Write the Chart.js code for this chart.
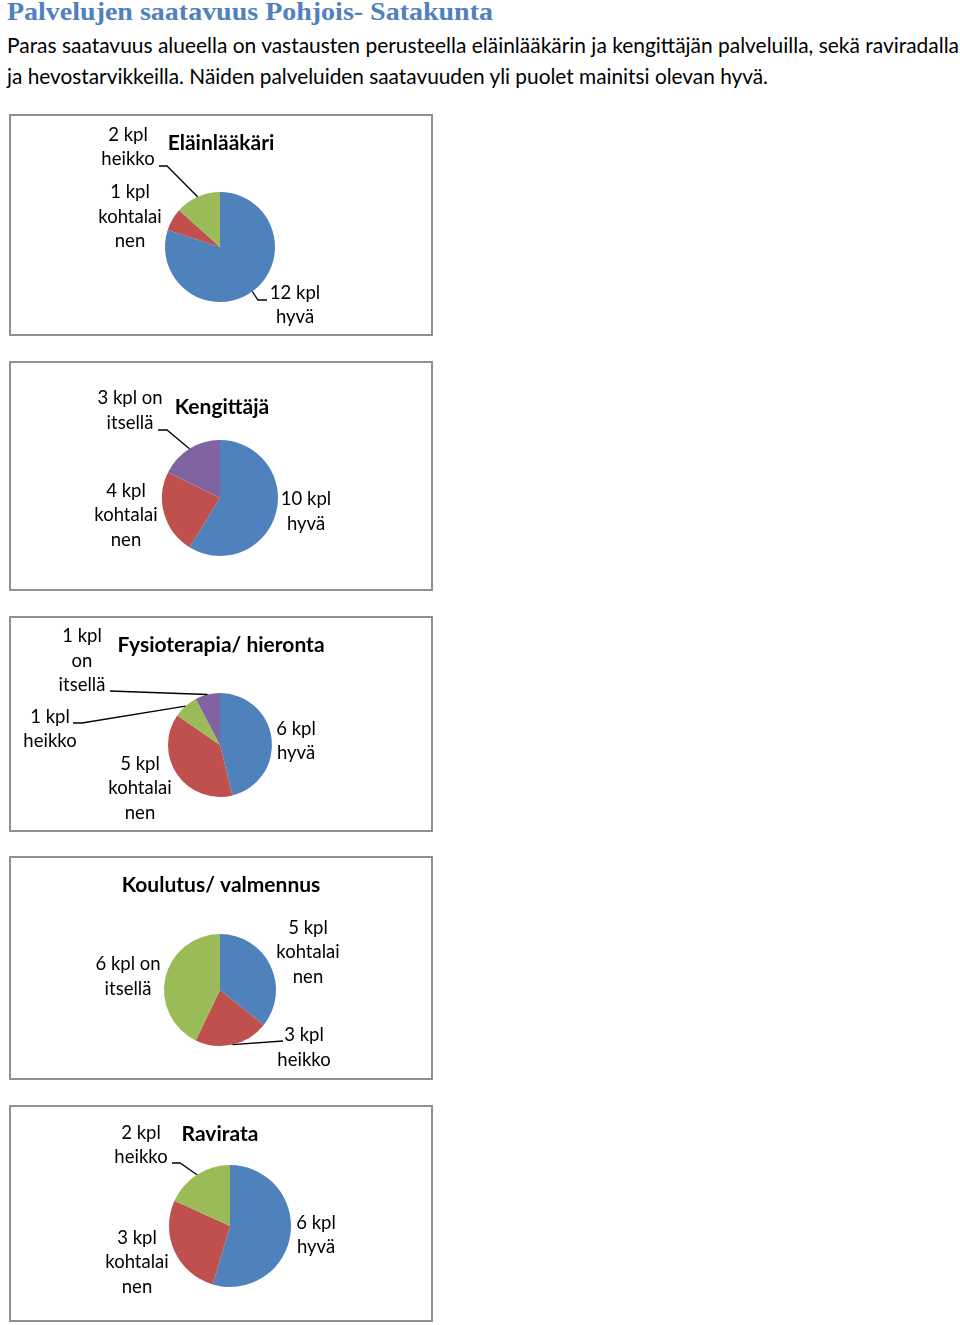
<!DOCTYPE html>
<html>
<head>
<meta charset="utf-8">
<script src="https://cdn.jsdelivr.net/npm/chart.js@4.4.1/dist/chart.umd.min.js"></script>
<style>
body { margin:0; background:#fff; width:960px; height:1325px; position:relative; overflow:hidden; }
.rivi { position:absolute; left:7px; white-space:nowrap; display:inline-block; transform-origin:0 0; }
.otsikko { font: bold 26px "Liberation Serif", serif; color:#4F81BD; line-height:30px; }
.teksti { font: 21px Lato, sans-serif; color:#000; line-height:24px; }
.laatikko { position:absolute; left:9px; width:420px; border:2px solid #8f8f8f; }
canvas { display:block; }
</style>
</head>
<body>
<div class="rivi otsikko" id="t0" style="top:-3px" data-w="486">Palvelujen saatavuus Pohjois- Satakunta</div>
<div class="rivi teksti" id="t1" style="top:33px" data-w="952">Paras saatavuus alueella on vastausten perusteella eläinlääkärin ja kengittäjän palveluilla, sekä raviradalla</div>
<div class="rivi teksti" id="t2" style="top:64px" data-w="761">ja hevostarvikkeilla. Näiden palveluiden saatavuuden yli puolet mainitsi olevan hyvä.</div>

<script>
'use strict'
// arvot kuvasta (kpl)
const elainlaakariArvot = [12, 1, 2];
const elainlaakariTekstit = [['12 kpl', 'hyvä'], ['1 kpl', 'kohtalai', 'nen'], ['2 kpl', 'heikko']];

const kengittajaArvot = [10, 4, 3];
const kengittajaTekstit = [['10 kpl', 'hyvä'], ['4 kpl', 'kohtalai', 'nen'], ['3 kpl on', 'itsellä']];

const fysioArvot = [6, 5, 1, 1];
const fysioTekstit = [['6 kpl', 'hyvä'], ['5 kpl', 'kohtalai', 'nen'], ['1 kpl', 'heikko'], ['1 kpl', 'on', 'itsellä']];

const koulutusArvot = [5, 3, 6];
const koulutusTekstit = [['5 kpl', 'kohtalai', 'nen'], ['3 kpl', 'heikko'], ['6 kpl on', 'itsellä']];

const raviArvot = [6, 3, 2];
const raviTekstit = [['6 kpl', 'hyvä'], ['3 kpl', 'kohtalai', 'nen'], ['2 kpl', 'heikko']];

const otsikot = ['Eläinlääkäri', 'Kengittäjä', 'Fysioterapia/ hieronta', 'Koulutus/ valmennus', 'Ravirata'];

const paletti = ['#4F81BD', '#C0504D', '#9BBB59', '#8064A2'];

// sijoittelu: laatikot, piirakan keskipiste ja säde sivun koordinaateissa
const kaaviot = [
  { top:114, h:222, cx:220, cy:247, r:55, arvot:elainlaakariArvot, tekstit:elainlaakariTekstit, varit:[0,1,2],
    otsikko:[1,-104], paikat:[[75,58],[-90,-30],[-92,-100]],
    viivat:[[[38,53],[47,53]], null, [[-53,-81],[-61,-81]]] },
  { top:361, h:230, cx:220, cy:498, r:58, arvot:kengittajaArvot, tekstit:kengittajaTekstit, varit:[0,1,3],
    otsikko:[2,-91], paikat:[[86,13.5],[-94,17.5],[-90,-87.5]],
    viivat:[null, null, [[-53,-68],[-62,-68]]] },
  { top:616, h:216, cx:220, cy:745, r:52, arvot:fysioArvot, tekstit:fysioTekstit, varit:[0,1,2,3],
    otsikko:[1,-100], paikat:[[76,-4],[-80,43.5],[-170,-16],[-138,-84]],
    viivat:[null, null, [[-138,-22],[-147,-22]], [[-110,-54]]] },
  { top:856, h:224, cx:220, cy:990, r:56, arvot:koulutusArvot, tekstit:koulutusTekstit, varit:[0,1,2],
    otsikko:[1,-105], paikat:[[88,-37.5],[84,57.5],[-92,-13.5]],
    viivat:[null, [[63,51]], null] },
  { top:1105, h:217, cx:230, cy:1226, r:61, arvot:raviArvot, tekstit:raviTekstit, varit:[0,1,2],
    otsikko:[-10,-92], paikat:[[86,9],[-93,36.5],[-89,-81]],
    viivat:[null, null, [[-50,-63],[-58,-63]]] }
];

const tekstiPlugin = {
  id: 'tekstit',
  afterDraw(chart, args, opts) {
    const ctx = chart.ctx;
    const meta = chart.getDatasetMeta(0);
    const cx = meta.data[0].x, cy = meta.data[0].y;
    ctx.save();
    ctx.fillStyle = '#000';
    ctx.textAlign = 'center';
    ctx.textBaseline = 'middle';
    ctx.font = 'bold 21px Lato';
    ctx.fillText(opts.otsikko, cx + opts.otsikkoPaikka[0], cy + opts.otsikkoPaikka[1]);
    ctx.font = '18.5px Lato';
    meta.data.forEach((arc, i) => {
      const p = opts.paikat[i];
      const rivit = opts.tekstit[i];
      const lh = 24.5;
      const y0 = cy + p[1] - (rivit.length - 1) * lh / 2;
      rivit.forEach((r, k) => ctx.fillText(r, cx + p[0], y0 + k * lh));
      const viiva = opts.viivat[i];
      if (viiva) {
        const mid = (arc.startAngle + arc.endAngle) / 2;
        ctx.beginPath();
        ctx.moveTo(cx + Math.cos(mid) * arc.outerRadius, cy + Math.sin(mid) * arc.outerRadius);
        viiva.forEach(q => ctx.lineTo(cx + q[0], cy + q[1]));
        ctx.strokeStyle = '#000';
        ctx.lineWidth = 1.3;
        ctx.stroke();
      }
    });
    ctx.restore();
  }
};

function piirra(k, n) {
  const box = document.createElement('div');
  box.className = 'laatikko';
  box.style.top = k.top + 'px';
  box.style.height = (k.h - 4) + 'px';
  const can = document.createElement('canvas');
  box.appendChild(can);
  document.body.appendChild(box);
  const W = 420, H = k.h - 4;
  can.width = W; can.height = H;
  can.style.width = W + 'px'; can.style.height = H + 'px';
  const x = k.cx - 11, y = k.cy - k.top - 2;
  new Chart(can.getContext('2d'), {
    type: 'pie',
    data: {
      labels: k.tekstit.map(t => t.join(' ')),
      datasets: [{
        data: k.arvot,
        backgroundColor: k.varit.map(v => paletti[v]),
        borderWidth: 0
      }]
    },
    options: {
      responsive: false,
      animation: false,
      layout: { padding: { left: x - k.r, right: W - x - k.r, top: y - k.r, bottom: H - y - k.r } },
      plugins: {
        legend: { display: false },
        tooltip: { enabled: false },
        tekstit: { otsikko: otsikot[n], otsikkoPaikka: k.otsikko, paikat: k.paikat, tekstit: k.tekstit, viivat: k.viivat }
      }
    },
    plugins: [tekstiPlugin]
  });
}

kaaviot.forEach(piirra);

// sovita otsikko ja kappale leveyteen
['t0', 't1', 't2'].forEach(id => {
  const el = document.getElementById(id);
  const w = el.getBoundingClientRect().width;
  el.style.transform = 'scaleX(' + (el.dataset.w / w) + ')';
});
</script>
</body>
</html>
